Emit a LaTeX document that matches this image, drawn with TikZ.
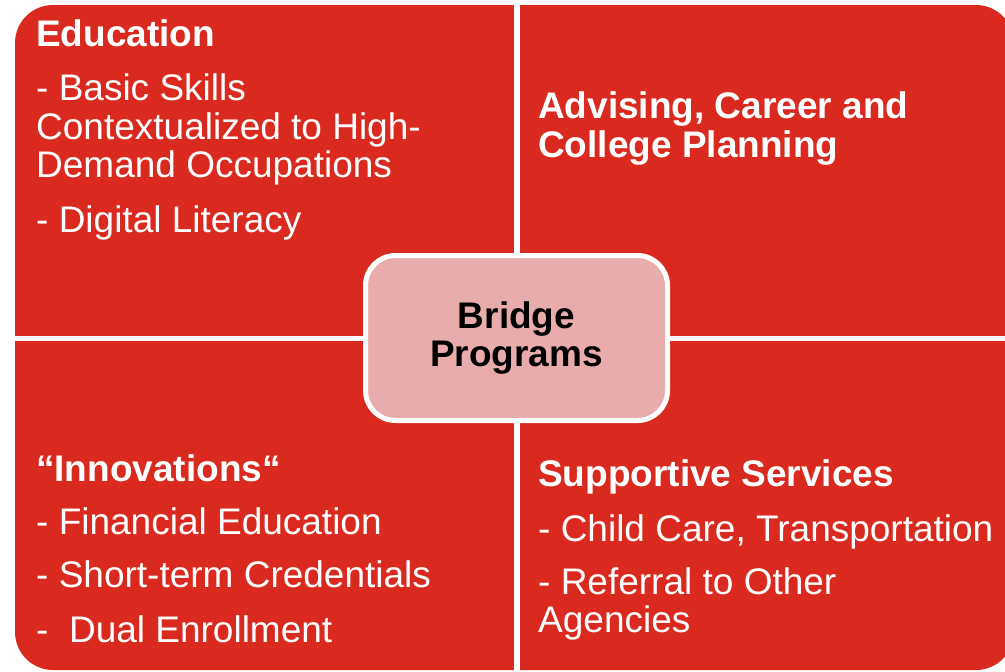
\documentclass[tikz,border=0pt]{standalone}
\usepackage{fontspec}
\setmainfont{Liberation Sans}
\definecolor{quadred}{RGB}{218,41,30}
\definecolor{bridgepink}{RGB}{233,172,172}
\tikzset{
  heading/.style={anchor=base west, inner sep=0pt, text=white,
    font=\bfseries\fontsize{37}{39}\selectfont},
  item/.style={anchor=base west, inner sep=0pt, text=white,
    font=\fontsize{37}{39}\selectfont},
  gap/.style={draw=white, line width=#1},
}

\begin{document}
\begin{tikzpicture}[x=1pt, y=-1pt]

  \useasboundingbox (0,0) rectangle (1005,672);
  \fill[white] (0,0) rectangle (1005,672);

  \coordinate (nw) at (15,5);   % outer top left corner
  \coordinate (se) at (1014,670); % outer bottom right, beyond the page
  \coordinate (mt) at (517,5);  % top of the vertical gap
  \coordinate (mb) at (517,672);
  \coordinate (ml) at (10,338.5); % left end of the horizontal gap
  \coordinate (mr) at (1014,338.5);

  \fill[quadred, rounded corners=38pt] (nw) rectangle (se);
  \draw[gap=6pt] (mt) -- (mb);
  \draw[gap=5pt] (ml) -- (mr);

  % centre box
  \node[draw=white, line width=5pt, fill=bridgepink, rounded corners=30pt,
        minimum width=302pt, minimum height=165pt, align=center,
        font=\bfseries\fontsize{37}{38}\selectfont] (bridge) at (516.5,338)
        {Bridge\\Programs};

  % top left
  \node[heading] (edu) at (36,46) {Education};
  \node[item] (edu1) at (36,100) {- Basic Skills};
  \node[item] (edu2) at (36,139) {Contextualized to High-};
  \node[item] (edu3) at (36,177) {Demand Occupations};
  \node[item] (edu4) at (36,232) {- Digital Literacy};

  % top right
  \node[heading] (adv) at (538,118) {Advising, Career and};
  \node[heading] (adv2) at (538,157) {College Planning};

  % bottom left
  \node[heading] (inno) at (36,481) {“Innovations“};
  \node[item] (inno1) at (36,534) {- Financial Education};
  \node[item] (inno2) at (36,587) {- Short-term Credentials};
  \node[item] (inno3) at (36,642) {-\ \ Dual Enrollment};

  % bottom right
  \node[heading] (sup) at (538,486) {Supportive Services};
  \node[item] (sup1) at (538,541) {- Child Care, Transportation};
  \node[item] (sup2) at (538,594) {- Referral to Other};
  \node[item] (sup3) at (538,632) {Agencies};
\end{tikzpicture}
\end{document}
